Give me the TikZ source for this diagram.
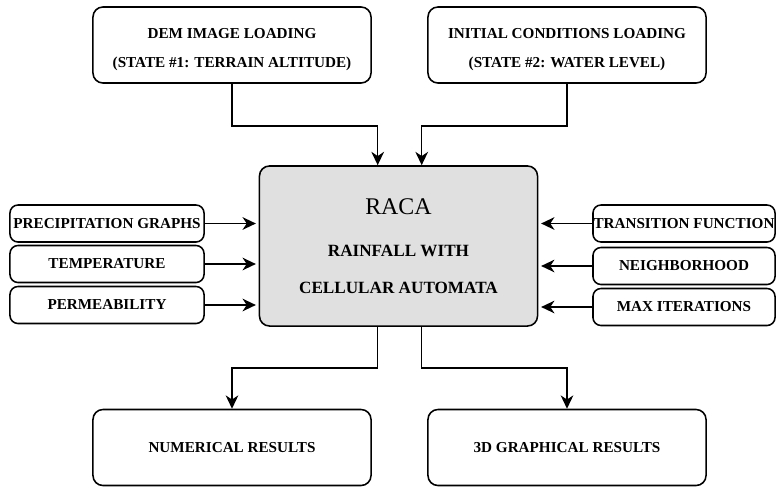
\documentclass[tikz,border=0pt]{standalone}
\usepackage{fontspec}
\setmainfont{Liberation Serif}
\usepackage{tikz}
\usetikzlibrary{calc,arrows.meta}

\begin{document}
\begin{tikzpicture}[x=0.025cm,y=-0.025cm,
        box/.style={draw, line width=1.1pt, rounded corners=0.25cm, align=center,
                font=\bfseries\fontsize{10.8}{20.6}\selectfont,
                minimum width=6.95cm, minimum height=1.9cm, inner sep=0pt},
        sidebox/.style={box, rounded corners=0.2cm, minimum height=0.925cm},
        arr/.style={-{Stealth[length=9.5pt,width=9pt,inset=3pt]}, line width=1.1pt}]
        \useasboundingbox (0,0) rectangle (776,487);
        % loading of the states
        \node [box] (dem) at (232,45) {\rule{0pt}{13pt}DEM IMAGE LOADING\\(STATE \#1: TERRAIN ALTITUDE)};
        \node [box] (init) at (567,45) {\rule{0pt}{13pt}INITIAL CONDITIONS LOADING\\(STATE \#2: WATER LEVEL)};
        % the automaton
        \node [box, fill=black!12, minimum height=4cm,
                font=\bfseries\fontsize{12.2}{26}\selectfont] (raca) at (398.5,246)
                {{\mdseries\fontsize{17}{20}\selectfont RACA}\\[4pt]RAINFALL WITH\\CELLULAR AUTOMATA};
        % results
        \node [box] (num) at (232,447.5) {NUMERICAL RESULTS};
        \node [box] (graph) at (567,447.5) {3D GRAPHICAL RESULTS};
        % inputs on the left
        \node [sidebox, minimum width=4.85cm] (precip) at (107,223.5) {PRECIPITATION GRAPHS};
        \node [sidebox, minimum width=4.85cm] (temp) at (107,264) {TEMPERATURE};
        \node [sidebox, minimum width=4.85cm] (perm) at (107,305) {PERMEABILITY};
        % parameters on the right
        \node [sidebox, minimum width=4.55cm] (trans) at (684,223.5) {TRANSITION FUNCTION};
        \node [sidebox, minimum width=4.55cm] (neigh) at (684,266) {NEIGHBORHOOD};
        \node [sidebox, minimum width=4.55cm] (iter) at (684,307) {MAX ITERATIONS};

        \draw [arr] (dem.south) -- ++(0,-1.05cm) -| ([xshift=-0.52cm]raca.north);
        \draw [arr] (init.south) -- ++(0,-1.05cm) -| ([xshift=0.58cm]raca.north);
        \draw [arr] ([xshift=-0.52cm]raca.south) -- ++(0,-1.025cm) -| (num.north);
        \draw [arr] ([xshift=0.58cm]raca.south) -- ++(0,-1.025cm) -| (graph.north);
        \foreach \n in {precip,temp,perm}
                \draw [arr, shorten >=2pt] (\n.east) -- (\n.east -| raca.west);
        \foreach \n in {trans,neigh,iter}
                \draw [arr, shorten >=2pt] (\n.west) -- (\n.west -| raca.east);
\end{tikzpicture}
\end{document}
